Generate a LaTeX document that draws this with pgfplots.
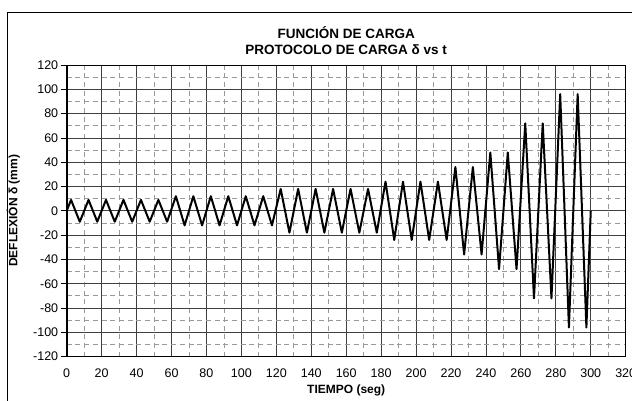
\documentclass[border=0pt]{standalone}
\usepackage{fontspec}
\setmainfont{Liberation Sans}
\usepackage{pgfplots}
\pgfplotsset{compat=1.18}
\usepackage{pgfplotstable}

% protocolo de carga: picos y valles de cada ciclo (periodo 10 s)
\pgfplotstableread{
t d
0 0
2.5 9
7.5 -9
12.5 9
17.5 -9
22.5 9
27.5 -9
32.5 9
37.5 -9
42.5 9
47.5 -9
52.5 9
57.5 -9
62.5 12
67.5 -12
72.5 12
77.5 -12
82.5 12
87.5 -12
92.5 12
97.5 -12
102.5 12
107.5 -12
112.5 12
117.5 -12
122.5 18
127.5 -18
132.5 18
137.5 -18
142.5 18
147.5 -18
152.5 18
157.5 -18
162.5 18
167.5 -18
172.5 18
177.5 -18
182.5 24
187.5 -24
192.5 24
197.5 -24
202.5 24
207.5 -24
212.5 24
217.5 -24
222.5 36
227.5 -36
232.5 36
237.5 -36
242.5 48
247.5 -48
252.5 48
257.5 -48
262.5 72
267.5 -72
272.5 72
277.5 -72
282.5 96
287.5 -96
292.5 96
297.5 -96
300 0
}\protocolo

\begin{document}
\begin{tikzpicture}[x=1pt,y=1pt]
\path[use as bounding box] (0,0) rectangle (632,400);
\draw[black, line width=0.9pt] (7.5,-20) -- (7.5,387.5) -- (660,387.5);
\begin{axis}[
  at={(66.7pt,43.4pt)}, anchor=south west,
  scale only axis, width=559pt, height=291.6pt,
  xmin=0, xmax=320, ymin=-120, ymax=120,
  xtick distance=20, ytick distance=20,
  minor x tick num=1, minor y tick num=1,
  grid=both,
  major grid style={black!75, line width=0.8pt},
  minor grid style={black!40, line width=0.8pt, dash pattern=on 5pt off 3.7pt},
  axis line style={black, line width=1pt},
  tick align=outside, ytick pos=left, xtick pos=left,
  major tick length=6pt,
  xtick style={draw=none}, minor tick style={draw=none},
  ytick style={black, line width=0.8pt},
  /pgf/number format/assume math mode=true,
  ticklabel style={font=\fontsize{12.5}{15}\selectfont},
  yticklabel style={xshift=1pt},
  xticklabel style={yshift=-2.5pt},
  title={FUNCIÓN DE CARGA\\PROTOCOLO DE CARGA δ vs t},
  title style={at={(axis description cs:0.5,1.063)}, anchor=center,
    align=center, font=\bfseries\fontsize{13.5}{15.5}\selectfont},
  xlabel={TIEMPO (seg)},
  ylabel={DEFLEXIÓN δ (mm)},
  label style={font=\bfseries\fontsize{12}{14}\selectfont},
  xlabel style={at={(axis description cs:0.5,-0.115)}, anchor=center},
  ylabel style={at={(axis description cs:-0.0955,0.5)}, anchor=center, rotate=0},
]
\addplot[black, line width=2pt, line join=round, mark=none] table[x=t, y=d] {\protocolo};
\draw[black, line width=2pt] (rel axis cs:0,1) -- (rel axis cs:0,0) -- (rel axis cs:1,0);
\end{axis}
\end{tikzpicture}
\end{document}
